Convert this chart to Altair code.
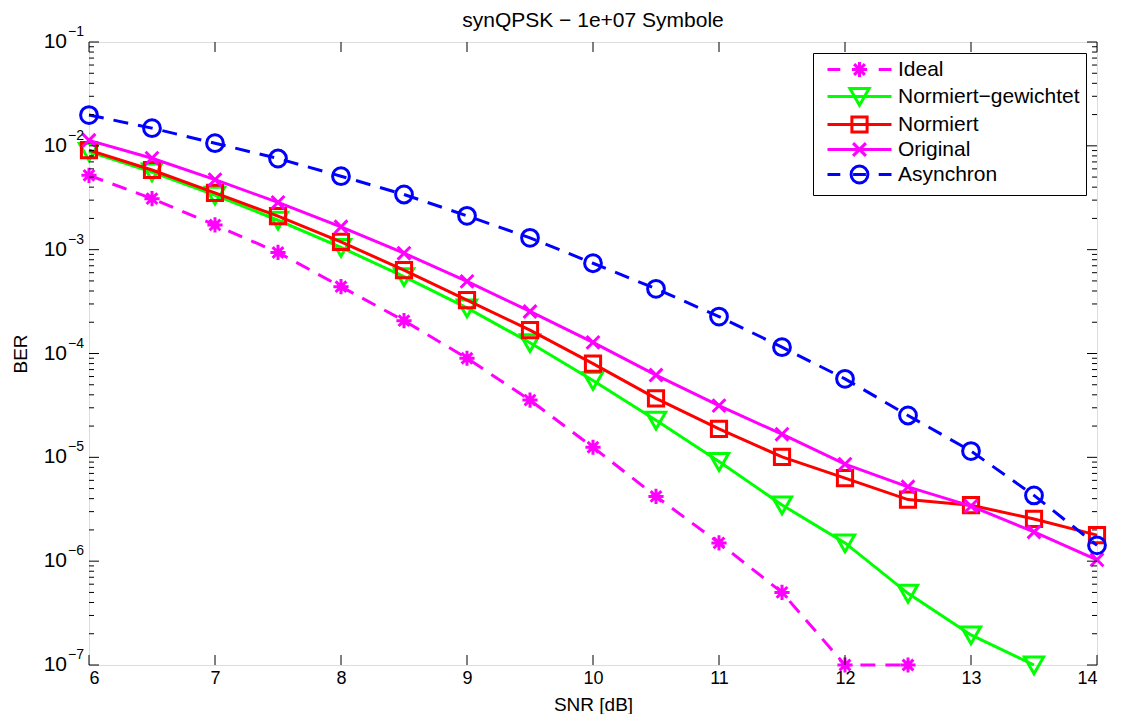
import altair as alt
import pandas as pd

FONT = "Liberation Sans"

snr = [6, 6.5, 7, 7.5, 8, 8.5, 9, 9.5, 10, 10.5, 11, 11.5, 12, 12.5, 13, 13.5, 14]
ber_ideal = [5.2e-3, 3.1e-3, 1.73e-3, 9.4e-4, 4.4e-4, 2.07e-4, 9.0e-5, 3.56e-5, 1.25e-5, 4.2e-6,
             1.5e-6, 5.0e-7, 1e-7, 1e-7, None, None, None]
ber_gewichtet = [8.8e-3, 5.6e-3, 3.35e-3, 1.92e-3, 1.05e-3, 5.5e-4, 2.75e-4, 1.27e-4, 5.5e-5, 2.28e-5,
                 9.1e-6, 3.48e-6, 1.5e-6, 4.9e-7, 1.95e-7, 1e-7, None]
ber_normiert = [9.1e-3, 5.85e-3, 3.52e-3, 2.1e-3, 1.19e-3, 6.35e-4, 3.27e-4, 1.68e-4, 8.0e-5, 3.7e-5,
                1.88e-5, 1.01e-5, 6.3e-6, 3.92e-6, 3.46e-6, 2.55e-6, 1.78e-6]
ber_original = [1.13e-2, 7.6e-3, 4.72e-3, 2.85e-3, 1.66e-3, 9.25e-4, 4.95e-4, 2.54e-4, 1.28e-4, 6.2e-5,
                3.15e-5, 1.67e-5, 8.6e-6, 5.2e-6, 3.39e-6, 1.91e-6, 1.03e-6]
ber_async = [1.98e-2, 1.48e-2, 1.06e-2, 7.55e-3, 5.1e-3, 3.4e-3, 2.12e-3, 1.3e-3, 7.4e-4, 4.2e-4,
             2.27e-4, 1.15e-4, 5.7e-5, 2.53e-5, 1.15e-5, 4.3e-6, 1.42e-6]

series_names = ["Ideal", "Normiert\u2212gewichtet", "\u00a0Normiert", "\u00a0Original", "\u00a0Asynchron"]
series_values = [ber_ideal, ber_gewichtet, ber_normiert, ber_original, ber_async]
series_colors = ["#ff00ff", "#00ff00", "#ff0000", "#ff00ff", "#0000ff"]
series_dashed = [True, False, False, False, True]

x_ticks = [6, 7, 8, 9, 10, 11, 12, 13, 14]
y_decades = [1e-1, 1e-2, 1e-3, 1e-4, 1e-5, 1e-6, 1e-7]
y_exponents = ["\u22121", "\u22122", "\u22123", "\u22124", "\u22125", "\u22126", "\u22127"]
y_minor = [m * 10.0 ** e for e in range(-7, -1) for m in range(2, 10)]

# marker shapes (unit = sqrt(size)/2 px)
ASTER = "M-0.95,0L0.95,0M0,-0.95L0,0.95M-0.67,-0.67L0.67,0.67M-0.67,0.67L0.67,-0.67"
TRI = "M-1.2,-1L1.2,-1L0,1.1Z"
SQUARE = "M-0.95,-0.95L0.95,-0.95L0.95,0.95L-0.95,0.95Z"
XMARK = "M-0.8,-0.8L0.8,0.8M-0.8,0.8L0.8,-0.8"
CIRCLE = "M-1.05,0A1.05,1.05,0,1,1,1.05,0A1.05,1.05,0,1,1,-1.05,0Z"
markers = [ASTER, TRI, SQUARE, XMARK, CIRCLE]
SOLID = "M-4,0L4,0"
DASHED = "M-4,0L-2.4,0M-0.8,0L0.8,0M2.4,0L4,0"
legend_shapes = [(DASHED if d else SOLID) + m for d, m in zip(series_dashed, markers)]

W, H = 1008, 623

xscale = alt.Scale(domain=[6, 14], nice=False, zero=False)
yscale = alt.Scale(type="log", domain=[1e-7, 1e-1], nice=False)
xaxis = alt.Axis(values=x_ticks, format="d", grid=False, ticks=False, tickSize=0, domain=False,
                 labelFont=FONT, labelFontSize=18, labelColor="black", labelPadding=4,
                 title="SNR [dB]", titleFont=FONT, titleFontSize=19, titleFontWeight="normal",
                 titleColor="black", titleY=30, titleBaseline="top")
yaxis = alt.Axis(labels=False, grid=False, ticks=False, tickSize=0, domain=False,
                 title="BER", titleFont=FONT, titleFontSize=19, titleFontWeight="normal",
                 titleColor="black", titleX=-59, titleY=H / 2, titleAngle=270,
                 titleAlign="center", titleBaseline="bottom")


def X(field):
    return alt.X(f"{field}:Q", scale=xscale, axis=xaxis)


def Y(field):
    return alt.Y(f"{field}:Q", scale=yscale, axis=yaxis)


layers = []
for name, vals, col, dashed, mk in zip(series_names, series_values, series_colors, series_dashed, markers):
    df = pd.DataFrame({"snr": snr, "ber": vals}).dropna()
    line_kw = dict(color=col, strokeWidth=3, clip=False)
    if dashed:
        line_kw["strokeDash"] = [15, 10]
    layers.append(alt.Chart(df).mark_line(**line_kw).encode(x=X("snr"), y=Y("ber")))
    layers.append(alt.Chart(df).mark_point(shape=mk, size=256, filled=False, strokeWidth=3,
                                           color=col, opacity=1, clip=False)
                  .encode(x=X("snr"), y=Y("ber")))

# legend (from an empty layer with explicit scale domains)
leg = alt.Legend(title=None, orient="top-right", offset=11, padding=6, strokeColor="black",
                 fillColor="white", cornerRadius=0, labelFont=FONT, labelFontSize=21,
                 labelColor="black", labelLimit=400, symbolSize=256, symbolStrokeWidth=3,
                 symbolOffset=30, labelOffset=28, rowPadding=-2, symbolOpacity=1)
leg_df = pd.DataFrame({"snr": [snr[0]] * 5, "ber": [v[0] for v in series_values], "series": series_names})
layers.append(
    alt.Chart(leg_df).mark_point(filled=False, strokeWidth=3, size=256)
    .encode(x=X("snr"), y=Y("ber"),
            color=alt.Color("series:N", scale=alt.Scale(domain=series_names, range=series_colors), legend=leg),
            shape=alt.Shape("series:N", scale=alt.Scale(domain=series_names, range=legend_shapes), legend=leg))
    .transform_filter("false")
)

# inward ticks
maj_df = pd.DataFrame({"v": y_decades})
min_df = pd.DataFrame({"v": y_minor})
xt_df = pd.DataFrame({"t": x_ticks})
rule = dict(color="black", strokeWidth=1)
layers += [
    alt.Chart(maj_df).mark_rule(**rule).encode(y=Y("v"), x=alt.value(0), x2=alt.value(10)),
    alt.Chart(maj_df).mark_rule(**rule).encode(y=Y("v"), x=alt.value(W), x2=alt.value(W - 10)),
    alt.Chart(min_df).mark_rule(**rule).encode(y=Y("v"), x=alt.value(0), x2=alt.value(5)),
    alt.Chart(min_df).mark_rule(**rule).encode(y=Y("v"), x=alt.value(W), x2=alt.value(W - 5)),
    alt.Chart(xt_df).mark_rule(**rule).encode(x=X("t"), y=alt.value(H), y2=alt.value(H - 10)),
    alt.Chart(xt_df).mark_rule(**rule).encode(x=X("t"), y=alt.value(0), y2=alt.value(10)),
]

# y tick labels 10^-n
lab_df = pd.DataFrame({"v": y_decades, "base": ["10"] * 7, "exp": y_exponents})
layers += [
    alt.Chart(lab_df).mark_text(align="right", baseline="middle", font=FONT, fontSize=21, color="black")
    .encode(y=Y("v"), x=alt.value(-22), text="base:N"),
    alt.Chart(lab_df).mark_text(align="left", baseline="middle", font=FONT, fontSize=14, color="black", dy=-10)
    .encode(y=Y("v"), x=alt.value(-21), text="exp:N"),
]

chart = alt.layer(*layers).properties(
    width=W, height=H,
    title=alt.TitleParams("synQPSK \u2212 1e+07 Symbole", font=FONT, fontSize=21, fontWeight="normal",
                          color="black", anchor="middle", offset=10, dy=16),
    autosize=alt.AutoSizeParams(type="none"),
    padding={"left": 81, "top": 34, "right": 20, "bottom": 49},
).configure_view(stroke="black", strokeWidth=1).configure(background="white")

chart.save("out.html", embed_options={"renderer": "svg", "actions": False})
